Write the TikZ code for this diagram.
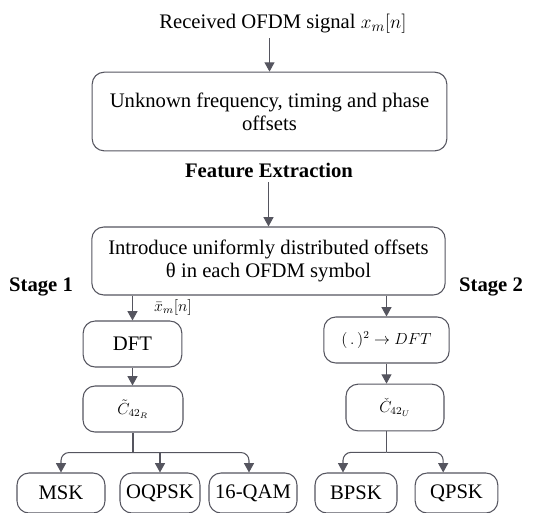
\documentclass[tikz,border=0pt]{standalone}
\usepackage{amsmath}
\usepackage{fontspec}
\setmainfont{Liberation Serif}
\usepackage{tikz}
\usetikzlibrary{arrows.meta}
\usetikzlibrary{calc}
\definecolor{linegray}{RGB}{85,85,95}

\begin{document}
\begin{tikzpicture}[
    x=0.75pt, y=-0.75pt,
    every node/.style={font=\rmfamily\fontsize{15.5}{17}\selectfont},
    block/.style={rectangle, rounded corners=9pt, draw=linegray, line width=0.8pt, align=center, inner sep=2pt},
    leaf/.style={block, minimum height=30pt},
    mathlbl/.style={font=\rmfamily\fontsize{11.5}{13}\selectfont},
    stage/.style={font=\rmfamily\fontsize{15.5}{17}\selectfont\bfseries},
    arr/.style={draw=linegray, line width=0.8pt, -{Triangle[width=7.5pt,length=7pt]}},
    wire/.style={draw=linegray, line width=0.8pt}]

\useasboundingbox (0,0) rectangle (534,512);

% Nodes
\node (rx) at (283,24) {Received OFDM signal $x_m[n]$};
\node[block, minimum width=266pt, minimum height=59pt] (offsets) at (269.5,111.5) {Unknown frequency, timing and phase\\offsets};
\node[stage] (feat) at (269,170) {Feature Extraction};
\node[block, minimum width=265pt, minimum height=51pt] (theta) at (268.5,261) {Introduce uniformly distributed offsets\\θ in each OFDM symbol};
\node[stage] (stage1) at (41,287) {Stage 1};
\node[stage] (stage2) at (491,287) {Stage 2};
\node[mathlbl] (xbar) at (173,307) {$\bar{x}_m[n]$};

\node[block, minimum width=74pt, minimum height=34.5pt] (dft) at (132.5,344) {DFT};
\node[block, mathlbl, minimum width=94pt, minimum height=34.5pt] (sqdft) at (386.5,340) {$(\,.\,)^2 \rightarrow DFT$};
\node[block, mathlbl, minimum width=75pt, minimum height=34.5pt] (c42r) at (133,409) {$\tilde{C}_{42_R}$};
\node[block, mathlbl, minimum width=73.5pt, minimum height=35pt] (c42u) at (395,407.5) {$\check{C}_{42_U}$};

\node[leaf, minimum width=66pt] (msk) at (61,493) {MSK};
\node[leaf, minimum width=60pt] (oqpsk) at (160,493) {OQPSK};
\node[leaf, minimum width=66pt] (qam) at (253,493) {16-QAM};
\node[leaf, minimum width=61.5pt] (bpsk) at (356,493) {BPSK};
\node[leaf, minimum width=62pt] (qpsk) at (456.5,493) {QPSK};

% Arrows
\draw[arr] (rx.south -| offsets.north) -- (offsets.north);
\draw[arr] (feat.south -| theta.north) -- (theta.north);
\draw[arr] (theta.south -| dft.north) -- (dft.north);
\draw[arr] (theta.south -| sqdft.north) -- (sqdft.north);
\draw[arr] (dft.south) -- (dft.south |- c42r.north);
\draw[arr] (sqdft.south) -- (sqdft.south |- c42u.north);

% Stage 1 tree
\draw[wire] (c42r.south) -- ++(0,20) coordinate (jr);
\draw[arr, rounded corners=6pt] (jr) -| (msk.north);
\draw[arr, rounded corners=6pt] (jr) -| ([xshift=-3pt]qam.north);
\draw[arr] (jr -| oqpsk.north) -- (oqpsk.north);

% Stage 2 tree
\draw[wire] (sqdft.south |- c42u.south) -- ++(0,21) coordinate (ju);
\draw[arr, rounded corners=6pt] (ju) -| ([xshift=-9.75pt]bpsk.north);
\draw[arr, rounded corners=6pt] (ju) -| ([xshift=-10pt]qpsk.north);
\end{tikzpicture}
\end{document}
